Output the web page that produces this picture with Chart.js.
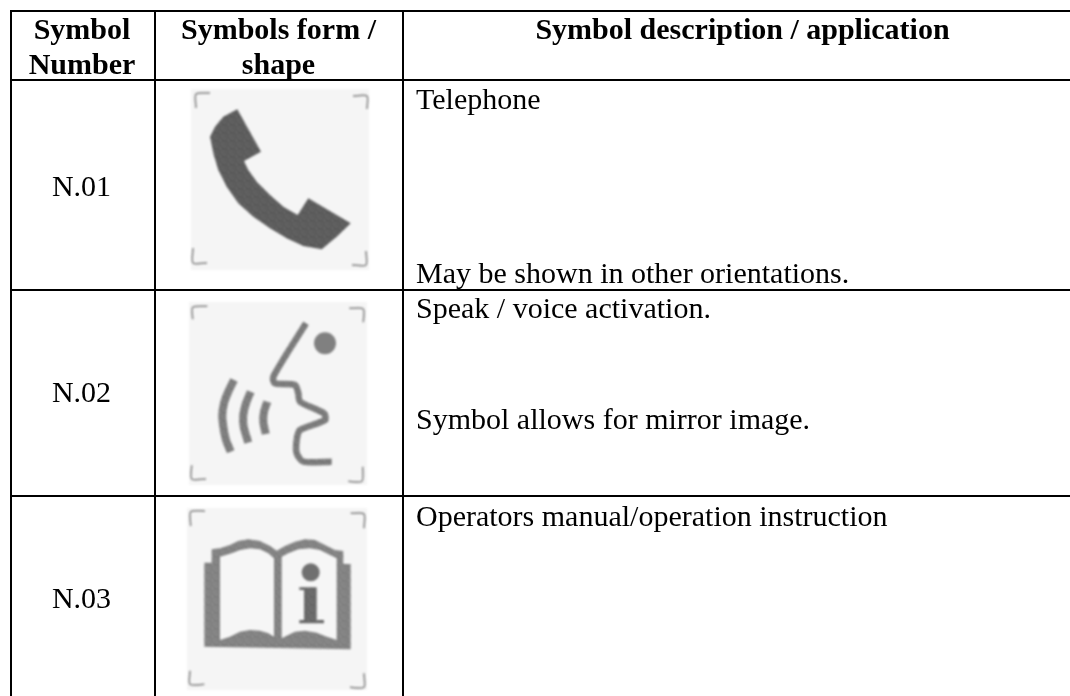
<!DOCTYPE html>
<html>
<head>
<meta charset="utf-8">
<title>Symbols</title>
<script src="https://cdn.jsdelivr.net/npm/chart.js@4/dist/chart.umd.min.js"></script>
<style>
  html, body { margin: 0; padding: 0; background: #fff; }
  canvas { display: block; }
</style>
</head>
<body>
<canvas id="tabela" width="1070" height="696"></canvas>
<script>
// table rules
const colEdges = [11, 155, 403];
const rowEdges = [11, 80, 290, 496];

// texts: [text, x, baseline y, bold, align]
const cellTexts = [
  ['Symbol', 82, 39, true, 'center'],
  ['Number', 82, 74, true, 'center'],
  ['Symbols form /', 278.5, 39, true, 'center'],
  ['shape', 278.5, 74, true, 'center'],
  ['Symbol description / application', 742.5, 39, true, 'center'],
  ['N.01', 81.5, 196, false, 'center'],
  ['N.02', 81.5, 402, false, 'center'],
  ['N.03', 81.5, 608, false, 'center'],
  ['Telephone', 416, 109, false, 'left'],
  ['May be shown in other orientations.', 416, 283, false, 'left'],
  ['Speak / voice activation.', 416, 318, false, 'left'],
  ['Symbol allows for mirror image.', 416, 429, false, 'left'],
  ['Operators manual/operation instruction', 416, 526, false, 'left']
];

// scanned panels behind each symbol
const panels = [
  [[191, 89], [369, 89], [369, 270], [191, 270]],
  [[189, 302], [367, 302], [367, 485], [189, 485]],
  [[187, 508], [367, 508], [367, 690], [187, 690]]
];

// corner marks
const cornerMarks = [
  [[210, 93], [196, 94], [196, 108]],
  [[353, 96], [367, 96], [367, 109]],
  [[193, 248], [193, 263], [207, 263]],
  [[352, 265], [366, 265], [366, 251]],
  [[207.3, 306.3], [192.7, 307.3], [192.7, 319.3]],
  [[349.3, 308.3], [363.3, 309], [363.3, 322.3]],
  [[191.7, 465.3], [191.7, 479], [206, 479]],
  [[348.3, 481.3], [362, 481.3], [362.7, 466.7]],
  [[205, 511], [190.7, 511.7], [190.7, 526]],
  [[350.7, 513.3], [364, 514], [364, 528.3]],
  [[190, 670.7], [190, 684.3], [204.3, 684.3]],
  [[350, 687.3], [364, 687.3], [364, 673.3]]
];

const telefone = [[237.3, 109.3], [223.3, 116.7], [215, 126.7], [210, 136.7], [213.3, 153.3], [218.3, 170], [226.7, 186.7], [238.3, 203.3], [253.3, 216.7], [270, 228.3], [286.7, 238.3], [303.3, 246], [321.7, 249.3], [336.7, 236.7], [350.7, 223.3], [308.3, 198.3], [297.7, 215], [283.3, 206.7], [270, 195], [256.7, 181.7], [248.3, 170], [244, 161], [261, 151.7]];

const perfil = [[306, 323.3], [273.3, 376.7], [275, 383.3], [295, 385], [298.3, 393.3], [300, 401.7], [324, 413.3], [325, 420], [300, 430], [296.7, 440], [296.7, 453.3], [303.3, 461.7], [331.7, 461.7]];
const ondas = [
  [[234, 380], [228.3, 391.7], [224, 403.3], [222.3, 415], [223.3, 426.7], [226, 440], [230.7, 451.7]],
  [[250.7, 391.7], [246, 403.3], [243.3, 415], [243.7, 426.7], [248.3, 442.7]],
  [[267.3, 401.7], [264, 411.7], [263.3, 421.7], [265.7, 434]]
];
const ponto = [[325, 343.3]];

const capaLivro = [[204.3, 562.7], [211.7, 562.7], [211.7, 549.3], [220, 548.3], [230, 545], [238.3, 541], [248.3, 539.3], [260, 541], [270, 546], [276.7, 550.7], [285, 546], [295, 541.7], [305, 539.3], [315, 540], [325, 545], [335, 550], [343.3, 551], [343.3, 564], [350.7, 564], [350.7, 649.3], [204.3, 646.7]];
const paginaEsq = [[220, 556.7], [231.7, 553.3], [240, 550], [250, 548.3], [260, 549.3], [268.3, 553.3], [274, 558.3], [274, 636.7], [268.3, 633.3], [260, 630.7], [250, 630], [240, 631.7], [230, 636.7], [220, 640]];
const paginaDir = [[281.7, 556.7], [288.3, 553.3], [298.3, 549.3], [310, 548.3], [320, 550], [330, 555], [336.7, 558.3], [336.7, 640], [326.7, 636.7], [316.7, 632.7], [305, 630.7], [295, 631.7], [288.3, 635], [281.7, 638.3]];
const hasteInfo = [[299.3, 587.3], [316.7, 587.3], [316.7, 620], [324, 620], [324, 623.3], [299.3, 623.3], [299.3, 620], [304, 620], [304, 590], [299.3, 590]];
const pontoInfo = [[310.7, 572.3]];

// fixed grain so the symbols look printed and scanned
const grao = [-24, 18, -8, 30, -30, 12, 4, -16, 26, -12, 8, -26, 20, -4, 32, -20, -6, 28, -22, 14, -2, -28, 10, 24, 16, -18, 34, -10, 6, 22, -32, 2, -14, 6, -34, 24, -6, 30, -22, 12, 28, -26, 14, -2, 18, -12, 8, -30, -8, 22, -16, 10, -28, 4, 26, -20, 20, 0, -24, 32, -10, 16, -4, 30];

function textura(base) {
  const tile = document.createElement('canvas');
  tile.width = tile.height = 8;
  const c = tile.getContext('2d');
  grao.forEach((g, i) => {
    const v = base + g;
    c.fillStyle = `rgb(${v},${v},${v})`;
    c.fillRect(i % 8, Math.floor(i / 8), 1, 1);
  });
  return c.createPattern(tile, 'repeat');
}

const toXY = pts => pts.map(p => ({ x: p[0], y: p[1] }));

const regra = pts => ({ data: toXY(pts), showLine: true, borderColor: '#000', borderWidth: 2, pointRadius: 0, fill: false, clip: false });
const traco = (pts, cor, largura) => ({ data: toXY(pts), showLine: true, borderColor: cor, borderWidth: largura, pointRadius: 0, fill: false, clip: false, tension: 0.25, borderJoinStyle: 'round' });
const forma = (pts, cor) => ({ data: toXY(pts.concat([pts[0]])), showLine: true, borderColor: 'rgba(0,0,0,0)', borderWidth: 0, backgroundColor: cor, pointRadius: 0, fill: 'shape', clip: false });
const bola = (pts, cor, raio) => ({ data: toXY(pts), showLine: false, pointRadius: raio, pointBackgroundColor: cor, pointBorderWidth: 0, clip: false });

// last index is painted first, so the panels stay at the end
const datasets = [];
rowEdges.forEach(y => datasets.push(regra([[10, y], [1070, y]])));
colEdges.forEach(x => datasets.push(regra([[x, 10], [x, 696]])));
const qtdRegras = datasets.length;

datasets.push(bola(pontoInfo, '#707070', 9));
datasets.push(forma(hasteInfo, textura(105)));
datasets.push(forma(paginaDir, '#f6f6f6'));
datasets.push(forma(paginaEsq, '#f6f6f6'));
datasets.push(forma(capaLivro, textura(130)));
datasets.push(bola(ponto, '#808080', 11));
ondas.forEach(o => datasets.push(traco(o, textura(125), 8)));
datasets.push(traco(perfil, textura(122), 6.5));
datasets.push(forma(telefone, textura(92)));
cornerMarks.forEach(c => datasets.push(traco(c, '#808080', 1.5)));
panels.forEach(p => datasets.push(forma(p, '#f5f5f5')));

const desfoque = {
  id: 'desfoque',
  beforeDatasetsDraw(chart) {
    chart.ctx.filter = 'blur(1px)';
  },
  afterDatasetDraw(chart, args) {
    if (args.index === qtdRegras) chart.ctx.filter = 'none';
  }
};

const textos = {
  id: 'textos',
  afterDatasetsDraw(chart) {
    const ctx = chart.ctx;
    const { x: sx, y: sy } = chart.scales;
    ctx.save();
    ctx.fillStyle = '#000';
    ctx.textBaseline = 'alphabetic';
    cellTexts.forEach(t => {
      ctx.font = (t[3] ? 'bold ' : '') + '30px "Liberation Serif"';
      ctx.textAlign = t[4];
      ctx.fillText(t[0], sx.getPixelForValue(t[1]), sy.getPixelForValue(t[2]));
    });
    ctx.restore();
  }
};

new Chart(document.getElementById('tabela').getContext('2d'), {
  type: 'scatter',
  data: { datasets: datasets },
  options: {
    responsive: false,
    animation: false,
    layout: { padding: 0, autoPadding: false },
    plugins: { legend: { display: false }, tooltip: { enabled: false }, title: { display: false } },
    scales: {
      x: { type: 'linear', display: false, min: 0, max: 1070 },
      y: { type: 'linear', display: false, min: 0, max: 696, reverse: true }
    }
  },
  plugins: [desfoque, textos]
});
</script>
</body>
</html>
